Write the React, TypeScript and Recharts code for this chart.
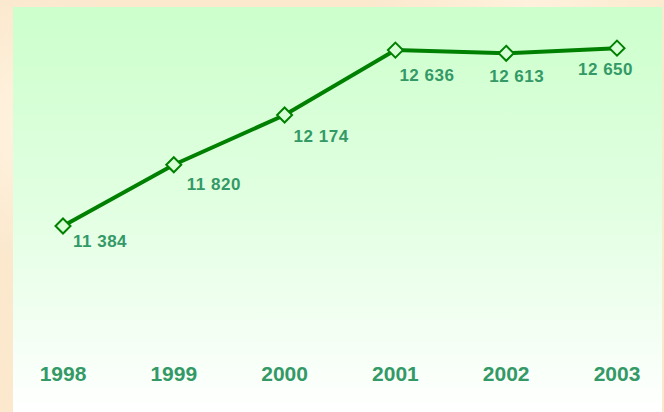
import React from 'react';
import { LineChart, Line, XAxis, YAxis, LabelList } from 'recharts';

const years = [1998, 1999, 2000, 2001, 2002, 2003];
const values = [11384, 11820, 12174, 12636, 12613, 12650];
const yearTicks = [1998, 1999, 2000, 2001, 2002, 2003];

// label placement (layout only) relative to each marker
const labelDx = [10, 13, 9, 4, -17, -39];
const labelDy = [21, 25, 27, 31, 29, 27];

const data = years.map((y, i) => ({ year: y, value: values[i] }));

const fmt = (v: number) => {
  const th = Math.floor(v / 1000);
  const rest = String(v % 1000).padStart(3, '0');
  return `${th} ${rest}`;
};

const Diamond = (props: any) => {
  const { cx, cy } = props;
  if (cx == null || cy == null) return null;
  const r = 7.5;
  return (
    <polygon
      points={`${cx},${cy - r} ${cx + r},${cy} ${cx},${cy + r} ${cx - r},${cy}`}
      fill="#d6ffd6"
      stroke="#008000"
      strokeWidth={2}
    />
  );
};

const ValueLabel = (props: any) => {
  const { x, y, value, index } = props;
  return (
    <text
      x={x + labelDx[index]}
      y={y + labelDy[index]}
      fill="#339966"
      fontFamily="'Liberation Sans', Arial, sans-serif"
      fontWeight="bold"
      fontSize={17}
      letterSpacing={0.5}
      textAnchor="start"
    >
      {fmt(value)}
    </text>
  );
};

const YearTick = (props: any) => {
  const { x, y, payload } = props;
  return (
    <text
      x={x}
      y={y}
      dy={93}
      fill="#339966"
      fontFamily="'Liberation Sans', Arial, sans-serif"
      fontWeight="bold"
      fontSize={21}
      textAnchor="middle"
    >
      {payload.value}
    </text>
  );
};

export default function App() {
  return (
    <div
      style={{
        position: 'absolute',
        left: 0,
        top: 0,
        width: 664,
        height: 412,
        background:
          'radial-gradient(circle at 5% 30%, #fff3e0 0%, rgba(255,243,224,0) 20%), radial-gradient(circle at 80% 0%, #fff1dc 0%, rgba(255,241,220,0) 25%), #fbe8cd',
        overflow: 'hidden',
      }}
    >
      <div
        style={{
          position: 'absolute',
          left: 13,
          top: 7,
          width: 649,
          height: 405,
          background: 'linear-gradient(to bottom, #ccffcc 0%, #e2ffe2 50%, #f6fff6 85%, #ffffff 100%)',
        }}
      />
      <div style={{ position: 'absolute', left: 0, top: 0 }}>
        <LineChart
          width={664}
          height={412}
          data={data}
          margin={{ top: 13, right: 47, bottom: 0, left: 63 }}
        >
          <XAxis
            dataKey="year"
            type="number"
            domain={[1998, 2003]}
            ticks={yearTicks}
            axisLine={false}
            tickLine={false}
            height={132}
            tick={<YearTick />}
            interval={0}
          />
          <YAxis hide domain={[11000, 12900]} />
          <Line
            dataKey="value"
            stroke="#008000"
            strokeWidth={4}
            dot={<Diamond />}
            activeDot={false}
            isAnimationActive={false}
          >
            <LabelList dataKey="value" content={<ValueLabel />} />
          </Line>
        </LineChart>
      </div>
    </div>
  );
}
